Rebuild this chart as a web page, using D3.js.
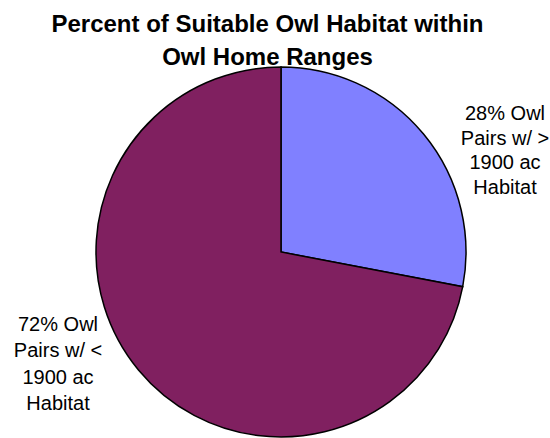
<!DOCTYPE html>
<html><head><meta charset="utf-8">
<script src="https://cdn.jsdelivr.net/npm/d3@7"></script>
<style>html,body{margin:0;padding:0;background:#fff;}svg{display:block;}</style>
</head><body>
<svg id="chart" width="550" height="438"></svg>
<script>
const titleLines = ["Percent of Suitable Owl Habitat within", "Owl Home Ranges"];
const categories = ["Owl Pairs w/ > 1900 ac Habitat", "Owl Pairs w/ < 1900 ac Habitat"];
const values = [28, 72];
const colors = ["#8080FF", "#802060"];
const labelLines = [
  ["28% Owl", "Pairs w/ >", "1900 ac", "Habitat"],
  ["72% Owl", "Pairs w/ <", "1900 ac", "Habitat"]
];

const svg = d3.select("#chart");
const cx = 281, cy = 252, r = 185;

const data = categories.map((c, i) => ({name: c, value: values[i], color: colors[i], lines: labelLines[i]}));
const pie = d3.pie().value(d => d.value).sort(null).startAngle(0).endAngle(2 * Math.PI);
const arc = d3.arc().innerRadius(0).outerRadius(r);
const arcs = pie(data);

const g = svg.append("g").attr("transform", `translate(${cx},${cy})`);
g.selectAll("path").data(arcs).enter().append("path")
  .attr("d", arc)
  .attr("fill", d => d.data.color)
  .attr("stroke", "#000")
  .attr("stroke-width", 1.5)
  .attr("stroke-linejoin", "miter");

// labels
const labelPos = [[505, 120], [58, 331]];
const lh = [24.7, 26.3];
arcs.forEach((a, i) => {
  const t = svg.append("text")
    .attr("text-anchor", "middle")
    .attr("font-family", "Liberation Sans, Arial, sans-serif")
    .attr("font-size", 20)
    .attr("fill", "#000");
  a.data.lines.forEach((ln, j) => {
    t.append("tspan").attr("x", labelPos[i][0]).attr("y", labelPos[i][1] + j * lh[i]).text(ln);
  });
});

// title
const title = svg.append("text")
  .attr("text-anchor", "middle")
  .attr("font-family", "Liberation Sans, Arial, sans-serif")
  .attr("font-weight", "bold")
  .attr("font-size", 24)
  .attr("fill", "#000");
titleLines.forEach((ln, j) => {
  title.append("tspan").attr("x", 267.5).attr("y", 32 + j * 33).text(ln);
});
</script>
</body></html>
